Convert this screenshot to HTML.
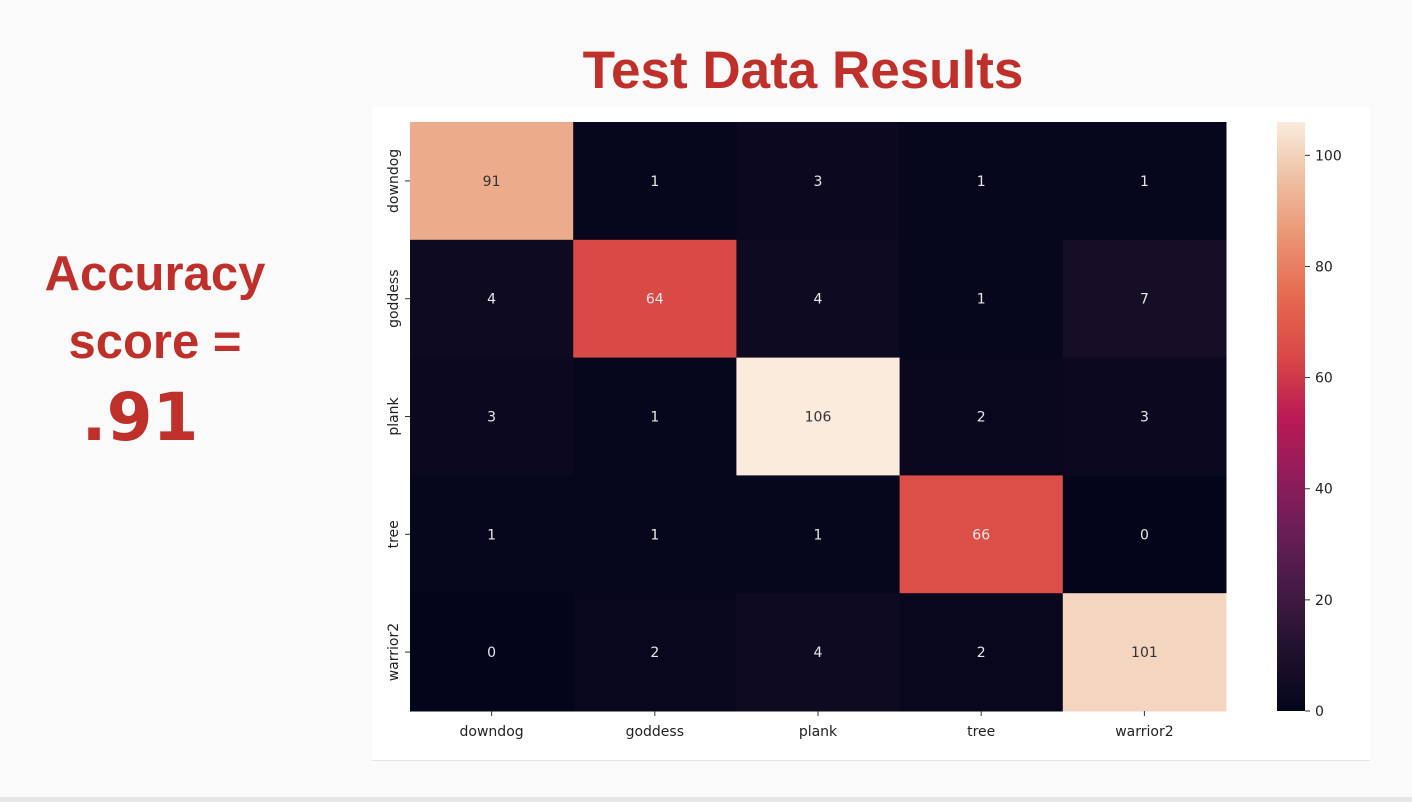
<!DOCTYPE html>
<html><head><meta charset="utf-8"><style>
body{margin:0;width:1412px;height:802px;background:#fafafa;font-family:"Liberation Sans","DejaVu Sans",sans-serif;overflow:hidden;position:relative}
.acc{position:absolute;color:#c0302a;font-weight:bold;text-align:center}
</style></head><body>
<div class="acc" style="left:20px;top:240px;width:270px;font-size:49px;line-height:68px">Accuracy<br>score =</div>
<div class="acc" style="left:70px;top:380px;width:140px;font-size:66px;line-height:76px;font-family:'DejaVu Sans',sans-serif">.91</div>
<div class="acc" style="left:490px;top:40px;width:626px;font-size:53px;line-height:62px">Test Data Results</div>
<div style="position:absolute;left:372px;top:107px;width:998px;height:653px;background:#fff;border-bottom:1px solid #e4e4e4"></div>
<div style="position:absolute;left:0;top:797px;width:1412px;height:5px;background:#e6e6e6"></div>
<svg id="chart" width="1412" height="802" style="position:absolute;left:0;top:0" font-family="DejaVu Sans, Liberation Sans, sans-serif"></svg>
<script>
const labels=["downdog","goddess","plank","tree","warrior2"];
const row0=[91,1,3,1,1];
const row1=[4,64,4,1,7];
const row2=[3,1,106,2,3];
const row3=[1,1,1,66,0];
const row4=[0,2,4,2,101];
const matrix=[row0,row1,row2,row3,row4];
const cbTicks=[0,20,40,60,80,100];
const vmin=0,vmax=106;
const NS="http://www.w3.org/2000/svg";
const svg=document.getElementById('chart');
const X0=410,X1=1226,Y0=122,Y1=711;
const cw=(X1-X0)/labels.length,ch=(Y1-Y0)/labels.length;
const stops=[[3,5,26],[32,17,45],[66,26,68],[104,30,86],[146,28,91],[187,26,84],[216,72,70],[230,104,78],[234,146,112],[238,190,160],[250,235,221]];
function cmap(v){let t=Math.max(0,Math.min(1,(v-vmin)/(vmax-vmin)))*(stops.length-1);let i=Math.min(Math.floor(t),stops.length-2),f=t-i;const a=stops[i],b=stops[i+1];return `rgb(${a.map((c,k)=>Math.round(c+(b[k]-c)*f)).join(',')})`;}
function lum(v){const t=(v-vmin)/(vmax-vmin);return t>0.7;}
function el(tag,attrs,txt){const e=document.createElementNS(NS,tag);for(const k in attrs)e.setAttribute(k,attrs[k]);if(txt!==undefined)e.textContent=txt;svg.appendChild(e);return e;}
const xs=i=>X0+i*cw, ys=j=>Y0+j*ch;
matrix.forEach((row,j)=>row.forEach((v,i)=>{
 const r=el('rect',{x:xs(i),y:ys(j),width:cw+0.5,height:ch+0.5,fill:cmap(v)});
 
 
 const t=el('text',{x:xs(i)+cw/2,y:ys(j)+ch/2+5,'text-anchor':'middle','font-size':14,fill:lum(v)?'#333':'#e8e8e8'},v);
 
 
}));
labels.forEach((l,i)=>{
 el('line',{x1:xs(i)+cw/2,x2:xs(i)+cw/2,y1:Y1,y2:Y1+5,stroke:'#333'});
 const t=el('text',{x:xs(i)+cw/2,y:Y1+25,'text-anchor':'middle','font-size':14,fill:'#222'},l);
 
 
 const y=ys(i)+ch/2;
 el('line',{x1:X0-5,x2:X0,y1:y,y2:y,stroke:'#333'});
 const t2=el('text',{x:0,y:0,'text-anchor':'middle','font-size':14,fill:'#222',transform:`translate(${X0-12},${y}) rotate(-90)`},l);
 
 
});
const CX=1277,CW=28;
const cy=v=>Y1-(v-vmin)/(vmax-vmin)*(Y1-Y0);
const defs=el('defs',{});
const g=document.createElementNS(NS,'linearGradient');g.setAttribute('id','cbg');g.setAttribute('x1',0);g.setAttribute('y1',1);g.setAttribute('x2',0);g.setAttribute('y2',0);defs.appendChild(g);
for(let k=0;k<=20;k++){const s=document.createElementNS(NS,'stop');s.setAttribute('offset',k/20);s.setAttribute('stop-color',cmap(vmin+(vmax-vmin)*k/20));g.appendChild(s);}
const cb=el('rect',{x:CX,y:Y0,width:CW,height:Y1-Y0,fill:'url(#cbg)'});


cbTicks.forEach(v=>{
 el('line',{x1:CX+CW,x2:CX+CW+5,y1:cy(v),y2:cy(v),stroke:'#333'});
 const t=el('text',{x:CX+CW+10,y:cy(v)+5,'font-size':14,fill:'#222'},v);
 
 
});
</script>
</body></html>
